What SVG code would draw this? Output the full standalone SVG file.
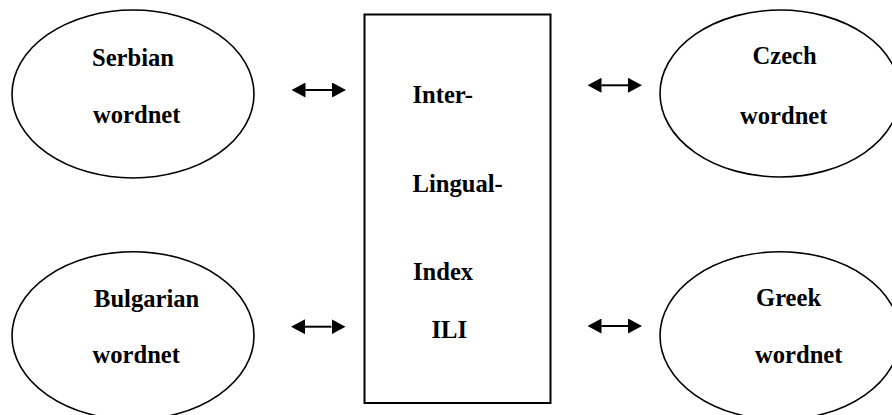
<svg xmlns="http://www.w3.org/2000/svg" width="892" height="415" viewBox="0 0 892 415">
  <style>
    .node { fill: #ffffff; stroke: #000000; stroke-width: 1.6; }
    .box { fill: #ffffff; stroke: #000000; stroke-width: 2; }
    .link { stroke: #000000; stroke-width: 2; fill: none; marker-start: url(#head); marker-end: url(#head); }
  </style>
  <defs>
    <marker id="head" viewBox="0 0 14 15" refX="0" refY="7.5" markerWidth="14" markerHeight="15" markerUnits="userSpaceOnUse" orient="auto-start-reverse">
      <path d="M0,0 L14,7.5 L0,15 Z" fill="#000000"/>
    </marker>
  </defs>
  <rect width="892" height="415" fill="#ffffff"/>

  <g font-family="Liberation Serif, serif" font-size="24.6" font-weight="bold" fill="#000000">
    <!-- central index -->
    <g id="ili">
      <rect class="box" x="364.5" y="14.5" width="186" height="388.5"/>
      <text x="412.5" y="103">Inter-</text>
      <text x="412.5" y="192">Lingual-</text>
      <text x="413" y="280">Index</text>
      <text x="431.5" y="338">ILI</text>
    </g>

    <g id="serbian">
      <ellipse class="node" cx="133" cy="94" rx="121" ry="84"/>
      <text x="92" y="66">Serbian</text>
      <text x="93" y="123">wordnet</text>
    </g>

    <g id="czech">
      <ellipse class="node" cx="780" cy="93.5" rx="120" ry="83.5"/>
      <text x="752.5" y="64">Czech</text>
      <text x="740" y="124">wordnet</text>
    </g>

    <g id="bulgarian">
      <ellipse class="node" cx="133" cy="335.7" rx="121" ry="84"/>
      <text x="94" y="307">Bulgarian</text>
      <text x="92.5" y="363">wordnet</text>
    </g>

    <g id="greek">
      <ellipse class="node" cx="780" cy="335.7" rx="120" ry="84"/>
      <text x="756" y="306">Greek</text>
      <text x="755" y="363">wordnet</text>
    </g>
  </g>

  <!-- two-way links to the index -->
  <g id="connectors">
    <line class="link" x1="305.5" y1="90" x2="332" y2="90"/>
    <line class="link" x1="601.5" y1="85.3" x2="628" y2="85.3"/>
    <line class="link" x1="305" y1="326.7" x2="331.5" y2="326.7"/>
    <line class="link" x1="601.5" y1="326" x2="628" y2="326"/>
  </g>
</svg>
